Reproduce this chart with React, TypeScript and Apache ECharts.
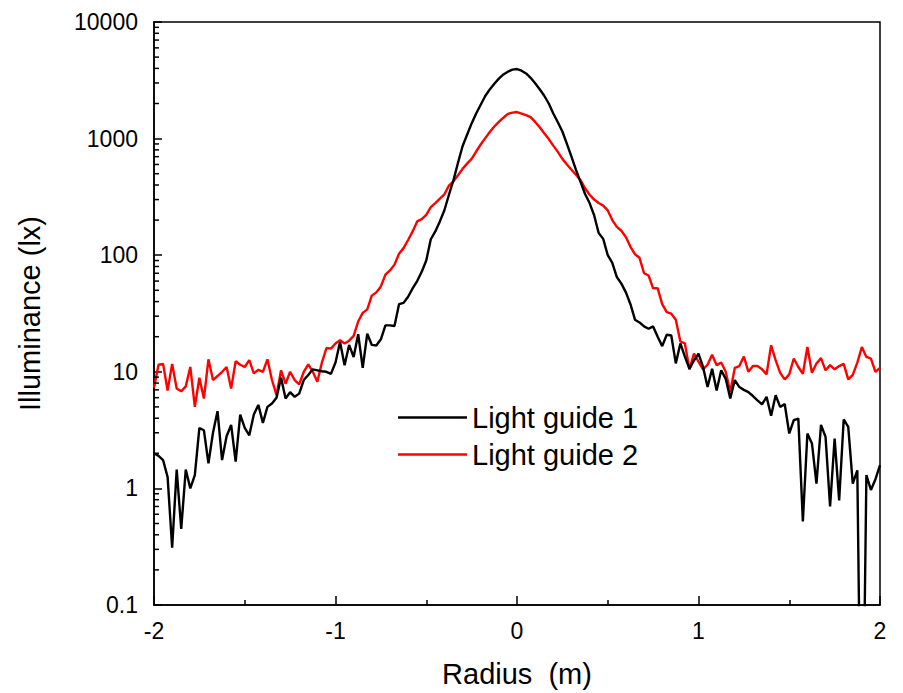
import React, { useEffect, useRef } from "react";
import * as echarts from "echarts";

// Illuminance (lx) sampled every 0.025 m from -2 m to 2 m
const lightGuide1 = [
  2.0, 1.9, 1.75, 1.25, 0.31, 1.45, 0.45, 1.45, 1.0, 1.3,
  3.3, 3.15, 1.64, 3.0, 4.6, 1.75, 2.8, 3.5, 1.7, 4.3,
  3.3, 2.85, 4.3, 5.2, 3.65, 5.0, 5.35, 6.0, 8.9, 5.9,
  6.7, 6.1, 6.5, 8.5, 9.4, 10.5, 10.3, 10.1, 10, 9.6,
  12, 18, 11.4, 17, 13.4, 21, 10.8, 21.2, 17, 16.8,
  19, 25, 25, 24.7, 38, 39, 44, 52, 60, 72,
  90, 137, 160, 195, 243, 330, 440, 620, 860, 1080,
  1350, 1640, 1950, 2320, 2640, 2950, 3270, 3550, 3750, 3900,
  3950, 3820, 3620, 3320, 2980, 2650, 2330, 2000, 1640, 1380,
  1150, 900, 700, 540, 425, 335, 280, 220, 155, 138,
  100, 86, 65, 57, 48, 38, 28, 26.5, 24.5, 23.4,
  24.5, 20, 16.6, 20.8, 20.5, 11.8, 17.5, 13.5, 10.6, 12.5,
  14.3, 11, 7.4, 10.6, 6.9, 10.3, 8.7, 5.9, 8.5, 7.4,
  7.0, 6.7, 6.2, 5.7, 5.25, 6.1, 4.2, 6.3, 5.0, 5.3,
  2.96, 3.85, 3.97, 0.52, 2.96, 2.43, 1.1, 3.5, 2.77, 0.7,
  2.68, 0.79, 3.9, 3.37, 1.1, 1.43, 0.001, 1.3, 0.97, 1.2,
  1.58,
];

const lightGuide2 = [
  7.3, 11.5, 11.7, 6.9, 11.7, 7.2, 6.8, 7.5, 11, 5.0,
  8.9, 5.9, 12.8, 8.5, 9.2, 10, 11, 7.2, 12.3, 11.5,
  11, 12.6, 9.7, 10.4, 10, 12.8, 8.5, 6.3, 10.3, 7.9,
  10, 8.5, 7.8, 10, 11.6, 10, 8.2, 12, 16, 15.8,
  17.5, 18.7, 17.5, 18.5, 20.3, 27, 32, 34.3, 45, 48,
  54, 68, 74, 83, 103, 115, 135, 160, 195, 204,
  222, 258, 280, 305, 333, 395, 430, 485, 550, 610,
  670, 775, 890, 1010, 1140, 1270, 1390, 1510, 1630, 1670,
  1690, 1640, 1590, 1530, 1390, 1250, 1110, 990, 870, 770,
  670, 600, 540, 490, 440, 375, 330, 300, 280, 266,
  242, 200, 175, 162, 143, 118, 102, 95, 70, 67,
  52, 52, 38, 32.5, 31.5, 28, 18.2, 17.5, 10.5, 14.3,
  12.2, 10.5, 11.5, 14, 11.4, 12, 10, 6.7, 10.8, 11.2,
  13.5, 10, 11.2, 11.2, 10.5, 9.5, 16.9, 12.6, 9.8, 8.6,
  9.5, 13, 11, 9.6, 16.3, 9.8, 11.8, 13.1, 10.3, 11.4,
  10.5, 11.2, 11.7, 8.6, 9.4, 12, 16.3, 13.4, 13, 10,
  10.8,
];

const xStart = -2;
const xStep = 0.025;
const radius = lightGuide1.map((_, i) => +(xStart + i * xStep).toFixed(3));

const seriesNames = ["Light guide 1", "Light guide 2"];
const seriesColors = ["#000000", "#ff0000"];

const yMin = 0.1;
const yMax = 10000;
// log minor tick values (2..9 of each decade)
const yMinorTicks: number[] = [];
[0.1, 1, 10, 100, 1000].forEach((d) => {
  [2, 3, 4, 5, 6, 7, 8, 9].forEach((m) => yMinorTicks.push(+(d * m).toPrecision(3)));
});

const FONT = "'Liberation Sans', Arial, Helvetica, sans-serif";

export default function App() {
  const ref = useRef<HTMLDivElement>(null);

  useEffect(() => {
    if (!ref.current) return;
    const chart = echarts.init(ref.current, null, { renderer: "svg" });

    const lines = [lightGuide1, lightGuide2].map((vals, k) => ({
      name: seriesNames[k],
      type: "line",
      data: vals.map((v, i) => [radius[i], v]),
      showSymbol: false,
      symbol: "none",
      clip: true,
      lineStyle: { color: seriesColors[k], width: 2.4 },
      itemStyle: { color: seriesColors[k] },
      z: 3 - k,
    }));

    chart.setOption({
      animation: false,
      backgroundColor: "#ffffff",
      grid: {
        left: 154,
        right: 23,
        top: 22,
        bottom: 87,
        show: true,
        borderColor: "#000",
        borderWidth: 1.5,
        backgroundColor: "transparent",
      },
      legend: {
        data: seriesNames,
        orient: "vertical",
        left: 393,
        top: 398,
        icon: "rect",
        itemWidth: 69,
        itemHeight: 2.5,
        itemGap: 8,
        textStyle: { fontFamily: FONT, fontSize: 29, color: "#000" },
      },
      xAxis: {
        type: "value",
        min: -2,
        max: 2,
        interval: 1,
        name: "Radius  (m)",
        nameLocation: "middle",
        nameGap: 54,
        nameTextStyle: { fontFamily: FONT, fontSize: 29, color: "#000" },
        axisLine: { show: true, onZero: false, lineStyle: { color: "#000", width: 1.5 } },
        axisTick: { show: true, inside: true, length: 9, lineStyle: { color: "#000", width: 1.5 } },
        minorTick: { show: true, splitNumber: 2, length: 5, lineStyle: { color: "#000", width: 1.5 } },
        axisLabel: { fontFamily: FONT, fontSize: 23, color: "#000", margin: 14 },
        splitLine: { show: false },
      },
      yAxis: {
        type: "log",
        logBase: 10,
        min: yMin,
        max: yMax,
        name: "Illuminance (lx)",
        nameLocation: "middle",
        nameGap: 110,
        nameTextStyle: { fontFamily: FONT, fontSize: 29, color: "#000" },
        axisLine: { show: true, onZero: false, lineStyle: { color: "#000", width: 1.5 } },
        axisTick: { show: true, inside: true, length: 8, lineStyle: { color: "#000", width: 1.5 } },
        minorTick: { show: false },
        axisLabel: {
          fontFamily: FONT,
          fontSize: 23,
          color: "#000",
          margin: 16,
          formatter: (v: number) => (v < 1 ? v.toFixed(1) : String(Math.round(v))),
        },
        splitLine: { show: false },
      },
      series: [
        ...lines,
        {
          type: "custom",
          name: "minorTicks",
          silent: true,
          clip: false,
          data: yMinorTicks.map((v) => [xStart, v]),
          renderItem: (_params: any, api: any) => {
            const p = api.coord([api.value(0), api.value(1)]);
            return {
              type: "line",
              shape: { x1: p[0], y1: p[1], x2: p[0] + 5, y2: p[1] },
              style: { stroke: "#000", lineWidth: 1.5 },
            };
          },
          z: 5,
        },
      ],
    });

    return () => chart.dispose();
  }, []);

  return (
    <div
      ref={ref}
      style={{ position: "fixed", left: 0, top: 0, width: 903, height: 693, background: "#fff" }}
    />
  );
}
